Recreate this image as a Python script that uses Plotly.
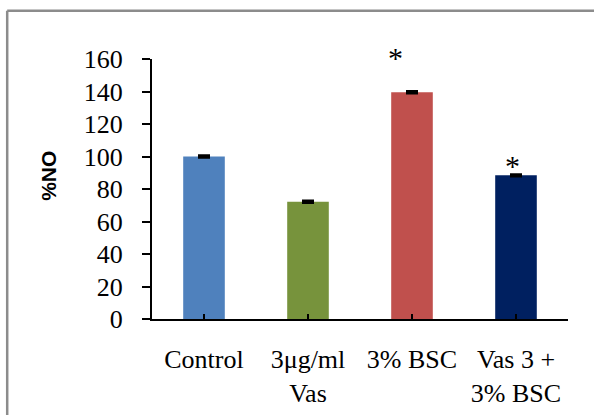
import plotly.graph_objects as go

# ---- data ----
categories = ["Control", "3μg/ml<br>Vas", "3% BSC", "Vas 3 +<br>3% BSC"]
values = [100.0, 72.2, 139.6, 88.4]
errors = [0.6, 0.6, 0.6, 0.6]
colors = ["#4F81BD", "#77933C", "#C0504D", "#002060"]
y_ticks = [0, 20, 40, 60, 80, 100, 120, 140, 160]
# significance marks: (x position in category units, y value)
star_marks = [(1.845, 160.9), (2.968, 94.5)]

W, H = 594, 415
L, R, T, B = 152, 567.7, 59.3, 318.9  # plot area pixel edges
X_RANGE = [-0.5, 3.5]
Y_RANGE = [0, 160]

def px_to_paper_x(px):
    return (px - L) / (R - L)

def px_to_paper_y(py):
    return (B - py) / (B - T)

def data_to_paper_x(v):
    return (v - X_RANGE[0]) / (X_RANGE[1] - X_RANGE[0])

def data_to_paper_y(v):
    return (v - Y_RANGE[0]) / (Y_RANGE[1] - Y_RANGE[0])

serif = "Liberation Serif"
xpos = list(range(len(categories)))

fig = go.Figure()
fig.add_trace(go.Bar(
    x=xpos, y=values, width=0.4,
    marker=dict(color=colors, line=dict(width=0)),
    error_y=dict(type="data", array=errors, visible=True,
                 color="black", thickness=2.5, width=6),
    showlegend=False,
))

for sx, sy in star_marks:
    fig.add_annotation(x=data_to_paper_x(sx), y=data_to_paper_y(sy),
                       xref="paper", yref="paper", text="*",
                       xanchor="center", yanchor="middle",
                       showarrow=False,
                       font=dict(family=serif, size=30, color="black"))

# y-axis title
fig.add_annotation(x=px_to_paper_x(49), y=px_to_paper_y(176),
                   xref="paper", yref="paper", text="<b>%NO</b>",
                   textangle=-90, showarrow=False,
                   xanchor="center", yanchor="middle",
                   font=dict(family="Liberation Sans", size=21, color="black"))

# outer frame (top and left edges visible)
frame_col = "#8C8C8C"
fig.add_shape(type="line", xref="paper", yref="paper",
              x0=px_to_paper_x(7.3), x1=px_to_paper_x(W + 20),
              y0=px_to_paper_y(11), y1=px_to_paper_y(11),
              line=dict(color=frame_col, width=2.5))
fig.add_shape(type="line", xref="paper", yref="paper",
              x0=px_to_paper_x(7.3), x1=px_to_paper_x(7.3),
              y0=px_to_paper_y(11), y1=px_to_paper_y(H + 20),
              line=dict(color=frame_col, width=2.5))

fig.update_layout(
    width=W, height=H,
    margin=dict(l=L, r=W - R, t=T, b=H - B, pad=0, autoexpand=False),
    paper_bgcolor="white", plot_bgcolor="white",
    font=dict(family=serif, size=26, color="black"),
)
fig.update_xaxes(
    range=X_RANGE,
    tickmode="array",
    tickvals=xpos + [3.5],
    ticktext=categories + [""],
    ticks="inside", ticklen=5, tickwidth=2, tickcolor="black",
    showline=True, linecolor="black", linewidth=2,
    showgrid=False, zeroline=False, automargin=False,
    tickfont=dict(family=serif, size=26, color="black"),
    ticklabelstandoff=16,
)
fig.update_yaxes(
    range=Y_RANGE,
    tickmode="array", tickvals=y_ticks,
    ticks="outside", ticklen=8, tickwidth=2, tickcolor="black",
    showline=True, linecolor="black", linewidth=2,
    showgrid=False, zeroline=False, automargin=False,
    tickfont=dict(family=serif, size=26, color="black"),
    ticklabelstandoff=14,
)

fig.write_html("out.html")
